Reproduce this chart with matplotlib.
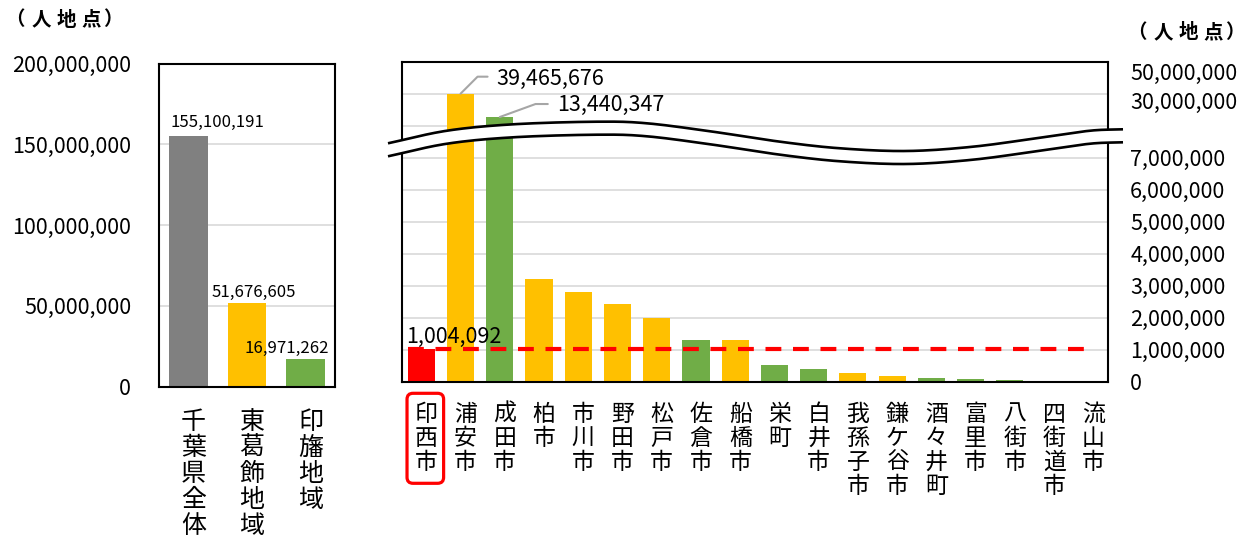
import numpy as np
import matplotlib
matplotlib.use('Agg')
import matplotlib.pyplot as plt
from matplotlib import transforms
from matplotlib.patches import Polygon, FancyBboxPatch
from matplotlib.lines import Line2D

plt.rcParams['font.family'] = ['Noto Sans CJK JP', 'DejaVu Sans']

# ---------------- data ----------------
left_categories = ['千葉県全体', '東葛飾地域', '印旛地域']
left_values = [155100191, 51676605, 16971262]
left_colors = ['#808080', '#FFC000', '#70AD47']
left_ticks = [0, 50000000, 100000000, 150000000, 200000000]

right_categories = ['印西市', '浦安市', '成田市', '柏市', '市川市', '野田市', '松戸市',
                    '佐倉市', '船橋市', '栄町', '白井市', '我孫子市', '鎌ケ谷市',
                    '酒々井町', '富里市', '八街市', '四街道市', '流山市']
right_values = [1004092, 39465676, 13440347, 3210000, 2800000, 2430000, 1990000,
                1300000, 1290000, 520000, 390000, 255000, 160000,
                100000, 90000, 50000, 12000, 8000]
right_colors = ['#FF0000', '#FFC000', '#70AD47', '#FFC000', '#FFC000', '#FFC000', '#FFC000',
                '#70AD47', '#FFC000', '#70AD47', '#70AD47', '#FFC000', '#FFC000',
                '#70AD47', '#70AD47', '#70AD47', '#70AD47', '#FFC000']
right_ticks = [0, 1000000, 2000000, 3000000, 4000000, 5000000, 6000000, 7000000,
               30000000, 50000000]
reference_value = 1004092           # dashed reference line (印西市)
unit_label = '（人地点）'

# broken-axis mapping (value -> display units)
break_vals = [0, 7e6, 13.44e6, 30e6, 39.47e6, 50e6, 60e6]
break_units = [0, 7, 8.27, 8.8, 9.0, 9.69, 10.0]


def fwd(v):
    v = np.asarray(v, dtype=float)
    out = np.interp(v, break_vals, break_units)
    out = np.where(v < 0, v / 1e6, out)
    out = np.where(v > break_vals[-1], 10 + (v - break_vals[-1]) / 1e7, out)
    return out


def inv(u):
    u = np.asarray(u, dtype=float)
    out = np.interp(u, break_units, break_vals)
    out = np.where(u < 0, u * 1e6, out)
    out = np.where(u > 10, break_vals[-1] + (u - 10) * 1e7, out)
    return out


def fmt(v):
    return f'{int(v):,}'


W, H = 1251, 541
fig = plt.figure(figsize=(W / 100, H / 100), dpi=100)
fig.patch.set_facecolor('white')

GRID = '#D9D9D9'
TICK_FS = 15.5

# ---------------- left chart ----------------
ax1 = fig.add_axes([159 / W, (H - 386.7) / H, 176 / W, 323.2 / H])
x1 = np.arange(len(left_categories))
ax1.bar(x1, left_values, width=0.66, color=left_colors, zorder=2)
ax1.set_xlim(-0.5, len(left_categories) - 0.5)
ax1.set_ylim(0, 200000000)
ax1.set_yticks(left_ticks, [fmt(t) for t in left_ticks])
ax1.set_xticks([])
ax1.yaxis.grid(True, color=GRID, lw=1.2, zorder=0)
ax1.set_axisbelow(True)
ax1.tick_params(axis='y', length=0, pad=20, labelsize=TICK_FS)
for s in ax1.spines.values():
    s.set_linewidth(1.5)
    s.set_color('black')

left_label_offsets = [(29, 9), (7, 6), (-19, 6)]
for i, v in enumerate(left_values):
    dx, dy = left_label_offsets[i]
    ax1.annotate(fmt(v), xy=(i, v), xytext=(dx, dy), textcoords='offset pixels',
                 ha='center', va='baseline', fontsize=12.1, zorder=5)

# vertical category labels (left)
for i, name in enumerate(left_categories):
    base = transforms.blended_transform_factory(ax1.transData, ax1.transAxes)
    for j, ch in enumerate(name):
        off = transforms.ScaledTranslation(5 / 100, -(42 + 26 * j) / 100, fig.dpi_scale_trans)
        ax1.text(i, 0, ch, transform=base + off, ha='center', va='baseline',
                 fontsize=18, clip_on=False)

# ---------------- right chart ----------------
ax2 = fig.add_axes([401.7 / W, (H - 381.5) / H, 706.3 / W, 319.8 / H])
ax2.set_yscale('function', functions=(fwd, inv))
x2 = np.arange(len(right_categories))
ax2.bar(x2, right_values, width=0.69, color=right_colors, zorder=2)
ax2.set_xlim(-0.5, len(right_categories) - 0.5)
ax2.set_ylim(0, inv(10))
ax2.set_xticks([])
ax2.yaxis.remove_overlapping_locs = False
grid_vals = inv(np.arange(1, 10))
ax2.set_yticks(grid_vals, [''] * len(grid_vals))
ax2.set_yticks(right_ticks, [fmt(t) for t in right_ticks], minor=True)
ax2.yaxis.tick_right()
ax2.yaxis.grid(True, which='major', color=GRID, lw=1.2, zorder=0)
ax2.yaxis.grid(False, which='minor')
ax2.set_axisbelow(True)
ax2.tick_params(axis='y', which='both', length=0)
ax2.tick_params(axis='y', which='minor', pad=16, labelsize=TICK_FS)
for lab in ax2.get_yticklabels(minor=True):
    lab.set_horizontalalignment('left')
for s in ax2.spines.values():
    s.set_linewidth(1.5)
    s.set_color('black')

# reference dashed line
ax2.hlines(reference_value, -0.35, len(right_categories) - 1 + 0.17, colors='#FF0000',
           linestyles=(0, (3.8, 2.8)), lw=3, zorder=4)

# value labels
ax2.annotate(fmt(right_values[0]), xy=(0 - 0.35, right_values[0]), xytext=(-1, 6),
             textcoords='offset pixels', ha='left', va='baseline', fontsize=TICK_FS, zorder=6)
lead = [(1, (27, 17), 45, (36, 15)), (2, (48, 13), 20, (57, 12))]
for i, (ax_, ay_), ang, (tx, ty) in lead:
    ax2.annotate('', xy=(i, right_values[i]), xytext=(ax_, ay_), textcoords='offset pixels',
                 arrowprops=dict(arrowstyle='-', color='#A6A6A6', lw=1.5, shrinkA=0, shrinkB=0,
                                 connectionstyle=f'angle,angleA=0,angleB={ang},rad=0'),
                 zorder=6)
    ax2.annotate(fmt(right_values[i]), xy=(i, right_values[i]), xytext=(tx, ty),
                 textcoords='offset pixels', ha='left', va='center', fontsize=TICK_FS, zorder=6)

# vertical category labels (right)
for i, name in enumerate(right_categories):
    base = transforms.blended_transform_factory(ax2.transData, ax2.transAxes)
    for j, ch in enumerate(name):
        off = transforms.ScaledTranslation(5 / 100, -(39.3 + 24 * j) / 100, fig.dpi_scale_trans)
        ax2.text(i, 0, ch, transform=base + off, ha='center', va='baseline',
                 fontsize=16.5, clip_on=False)

# highlight box around first category label
fig.canvas.draw()
cx = ax2.transData.transform((0, 0))[0] + 4
box = FancyBboxPatch((cx - 18.3, H - 483.3), 36.6, 90,
                     boxstyle='round,pad=0,rounding_size=6', ec='#FF0000', fc='none',
                     lw=2.3, transform=transforms.IdentityTransform())
fig.add_artist(box)

# axis break band (wave)
pts = np.array([(388, 143.3), (447, 130.7), (513, 124.3), (597, 121.7), (647, 123.3),
                (713, 131.7), (780, 141.7), (840, 148.3), (906.7, 151), (973, 146.7),
                (1040, 137.7), (1090, 130.7), (1123, 129.3)])


def catmull(p, n=20):
    p = np.vstack([p[0] * 2 - p[1], p, p[-1] * 2 - p[-2]])
    out = []
    for k in range(1, len(p) - 2):
        p0, p1, p2, p3 = p[k - 1], p[k], p[k + 1], p[k + 2]
        for t in np.linspace(0, 1, n, endpoint=False):
            t2, t3 = t * t, t * t * t
            out.append(0.5 * ((2 * p1) + (-p0 + p2) * t + (2 * p0 - 5 * p1 + 4 * p2 - p3) * t2
                              + (-p0 + 3 * p1 - 3 * p2 + p3) * t3))
    out.append(p[-2])
    return np.array(out)


upper = catmull(pts)
lower = upper + np.array([0, 13])
up_d = np.column_stack([upper[:, 0], H - upper[:, 1]])
lo_d = np.column_stack([lower[:, 0], H - lower[:, 1]])
band = Polygon(np.vstack([up_d, lo_d[::-1]]), closed=True, fc='white', ec='none',
               transform=transforms.IdentityTransform(), zorder=5)
fig.add_artist(band)
for arr in (up_d, lo_d):
    fig.add_artist(Line2D(arr[:, 0], arr[:, 1], color='black', lw=1.9,
                          transform=transforms.IdentityTransform(), zorder=6,
                          solid_capstyle='butt'))

# unit labels (spaced characters)
unit_char_dx = [-3, 23, 48, 73, 95]
for x0, yc in [(18, 20), (1140, 33)]:
    for ch, dx in zip(unit_label, unit_char_dx):
        fig.text((x0 + dx) / W, 1 - yc / H, ch, ha='center', va='center',
                 fontsize=14, fontweight='bold')

fig.savefig('out.png', dpi=100, facecolor='white')
